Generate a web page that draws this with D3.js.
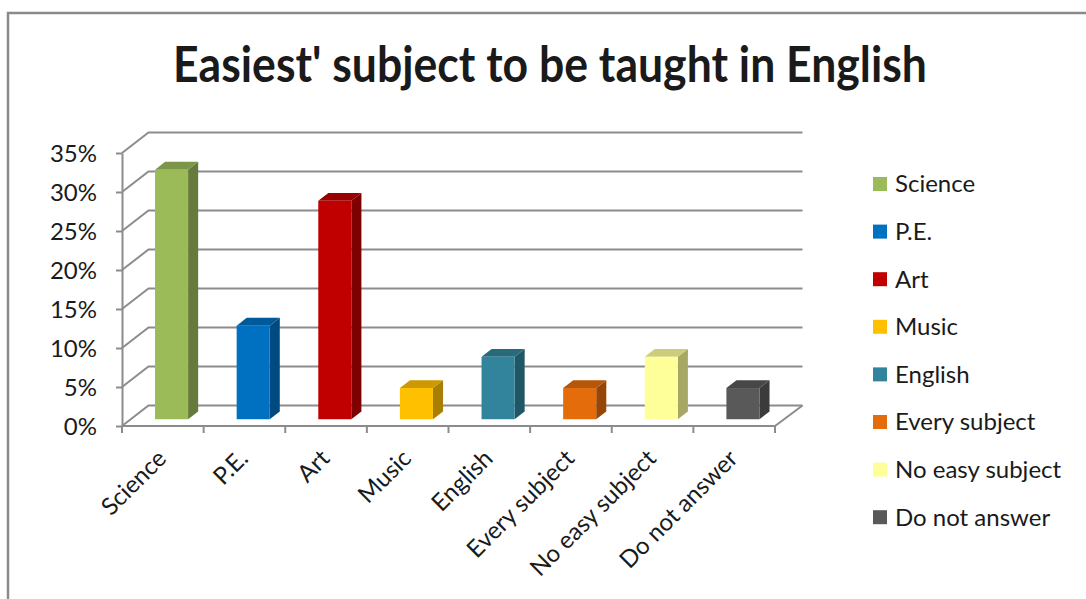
<!DOCTYPE html>
<html>
<head>
<meta charset="utf-8">
<script src="https://cdn.jsdelivr.net/npm/d3@7"></script>
<style>
  html, body { margin: 0; padding: 0; background: #fff; }
  svg { display: block; }
  text { font-family: Lato, "Open Sans", sans-serif; fill: #1a1a1a; }
</style>
</head>
<body>
<svg id="chart" width="1086" height="599"></svg>
<script>
// Survey answers: share of respondents per subject
const title = "Easiest' subject to be taught in English";
const categories = ["Science", "P.E.", "Art", "Music", "English", "Every subject", "No easy subject", "Do not answer"];
const values = [0.32, 0.12, 0.28, 0.04, 0.08, 0.04, 0.08, 0.04];
const colors = ["#9BBB59", "#0070C0", "#C00000", "#FFC000", "#31849B", "#E46C0A", "#FFFF99", "#595959"];
const yTicks = [0, 0.05, 0.10, 0.15, 0.20, 0.25, 0.30, 0.35];

const svg = d3.select("#chart");

// outer frame
svg.append("rect")
  .attr("x", 8).attr("y", 13).attr("width", 1200).attr("height", 800)
  .attr("fill", "none").attr("stroke", "#8a8a8a").attr("stroke-width", 2.5);

// title: tall bold type, condensed to its set width
const titleG = svg.append("g");
const titleText = titleG.append("text")
  .attr("x", 0).attr("y", 0)
  .attr("text-anchor", "middle")
  .style("font-weight", "bold")
  .style("font-size", "49px")
  .text(title);
const tw = titleText.node().getComputedTextLength();
titleG.attr("transform", `translate(550,82) scale(${Math.min(1, 754 / tw)},1)`);

// plot geometry (oblique 3D projection)
const plotLeft = 122, plotRight = 775;
const depthX = 26.5, depthY = -20.5;
const x = d3.scaleBand().domain(categories).range([plotLeft, plotRight]).padding(0);
const y = d3.scaleLinear().domain([0, 0.35]).range([426, 153]);
const gridColor = "#8c8c8c";

const grid = svg.append("g")
  .attr("fill", "none").attr("stroke", gridColor).attr("stroke-width", 2);

// side-wall diagonals and back-wall horizontals
yTicks.forEach(v => {
  const yy = y(v);
  grid.append("path")
    .attr("d", `M${plotLeft},${yy}L${plotLeft + depthX},${yy + depthY}L${plotRight + depthX + 1},${yy + depthY}`);
});

// floor outline
grid.append("path")
  .attr("d", `M${plotLeft},${y(0)}L${plotRight},${y(0)}L${plotRight + depthX + 1},${y(0) + depthY}`);

// category tick marks along the front floor edge
const bounds = categories.map(c => x(c)).concat([plotRight]);
grid.selectAll("line.ctick").data(bounds).enter().append("line")
  .attr("x1", d => d).attr("x2", d => d)
  .attr("y1", y(0)).attr("y2", y(0) + 7);

// value axis
const yAxis = d3.axisLeft(y)
  .tickValues(yTicks)
  .tickFormat(d3.format(".0%"))
  .tickSize(6)
  .tickSizeOuter(0)
  .tickPadding(19);
const ax = svg.append("g").attr("transform", `translate(${plotLeft},0)`).call(yAxis);
ax.select(".domain").attr("stroke", gridColor).attr("stroke-width", 2);
ax.selectAll(".tick line").attr("stroke", gridColor).attr("stroke-width", 2);
ax.selectAll(".tick text")
  .style("font-size", "24px").style("font-family", "Lato, sans-serif")
  .attr("fill", "#1a1a1a").attr("dy", "0.36em");

// 3D columns
const t0 = 0.33, t1 = 0.71;           // front and back depth of each column
const bw = x.bandwidth();
const colW = bw * 0.405;
const shade = (c, k) => { const r = d3.rgb(c); return d3.rgb(r.r * k, r.g * k, r.b * k).formatHex(); };

const bars = svg.append("g").selectAll("g.bar")
  .data(categories.map((c, i) => ({ c, v: values[i], color: colors[i] })))
  .enter().append("g");

bars.each(function (d) {
  const g = d3.select(this);
  const fx = x(d.c) + (bw - colW) / 2 + depthX * t0;
  const fyB = y(0) + depthY * t0;
  const fyT = y(d.v) + depthY * t0;
  const ddx = depthX * (t1 - t0), ddy = depthY * (t1 - t0);
  // side face
  g.append("path")
    .attr("d", `M${fx + colW},${fyB}L${fx + colW + ddx},${fyB + ddy}L${fx + colW + ddx},${fyT + ddy}L${fx + colW},${fyT}Z`)
    .attr("fill", shade(d.color, 0.66));
  // top face
  g.append("path")
    .attr("d", `M${fx},${fyT}L${fx + ddx},${fyT + ddy}L${fx + colW + ddx},${fyT + ddy}L${fx + colW},${fyT}Z`)
    .attr("fill", shade(d.color, 0.8));
  // front face
  g.append("rect")
    .attr("x", fx).attr("y", fyT).attr("width", colW).attr("height", fyB - fyT)
    .attr("fill", d.color);
});

// category labels, rotated
svg.append("g").selectAll("text")
  .data(categories).enter().append("text")
  .attr("transform", c => `translate(${x(c) + bw / 2 + 5},460) rotate(-45)`)
  .attr("text-anchor", "end")
  .style("font-size", "24px")
  .text(c => c);

// legend
const legend = svg.append("g").selectAll("g")
  .data(categories.map((c, i) => ({ c, color: colors[i] })))
  .enter().append("g")
  .attr("transform", (d, i) => `translate(873,${184 + i * 47.6})`);
legend.append("rect")
  .attr("x", 0).attr("y", -7).attr("width", 14).attr("height", 14)
  .attr("fill", d => d.color);
legend.append("text")
  .attr("x", 22).attr("y", 0).attr("dy", "0.35em")
  .style("font-size", "24px")
  .text(d => d.c);
</script>
</body>
</html>
